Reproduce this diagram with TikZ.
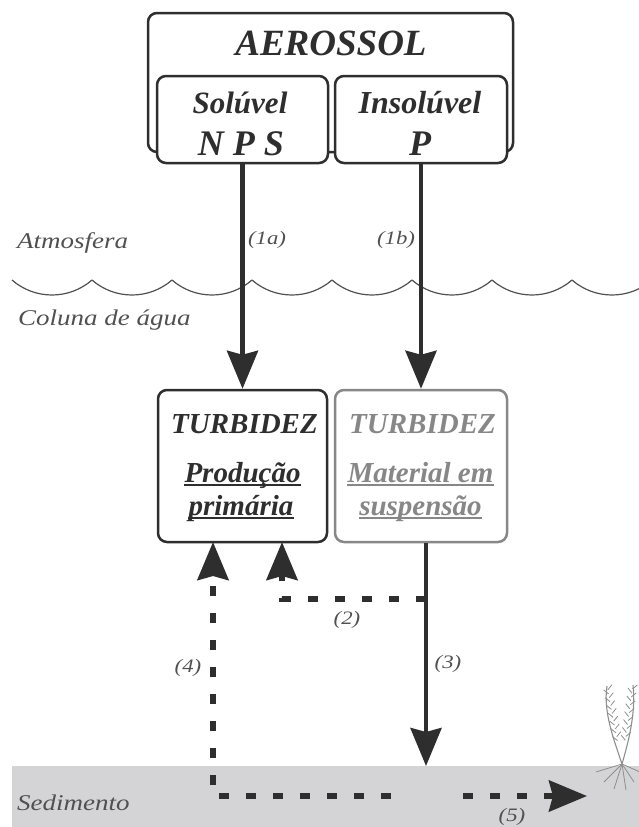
\documentclass[tikz,border=0pt]{standalone}
\usepackage{fontspec}
\setmainfont{Liberation Serif}
\newfontfamily\widefont[FakeStretch=1.2]{Liberation Serif}
\usetikzlibrary{arrows.meta,calc}

\definecolor{ink}{HTML}{2E2E2E}
\definecolor{greyink}{HTML}{878787}
\definecolor{labelgrey}{HTML}{505050}
\definecolor{sediment}{HTML}{D4D4D6}
\definecolor{plantgrey}{HTML}{8E8E8E}
\newcommand\fsz[1]{\fontsize{#1}{#1}\selectfont}

\begin{document}
\begin{tikzpicture}[x=1pt,y=-1pt,
  box/.style={draw=ink,line width=2.5pt,rounded corners=9pt,fill=white,inner sep=0pt},
  title/.style={font=\bfseries\itshape\fsz{#1},text=ink,inner sep=0pt,anchor=base},
  layer/.style={font=\widefont\itshape\fsz{22.5},text=labelgrey,inner sep=0pt,anchor=base west},
  num/.style={font=\widefont\itshape\fsz{19},text=labelgrey,inner sep=0pt},
  flow/.style={draw=ink,line width=4.5pt,-{Stealth[length=38pt,width=31pt,inset=4pt]}},
  dflow/.style={flow,line width=5.5pt,dash pattern=on 10pt off 17pt},
  uline/.style={line width=1.4pt},
  plant/.style={draw=plantgrey,line width=1.1pt},
]
\useasboundingbox (0,0) rectangle (639,827);

% sediment layer
\fill[sediment] (12,766) rectangle (639,827);
\node[layer] (sed) at (17,810) {Sedimento};

% air / water surface
\begin{scope}
  \clip (0,260) rectangle (639,310);
  \foreach \x in {12,92,...,572}{
    \draw[labelgrey,line width=1.2pt] (\x,280) .. controls (\x+22.9,300) and (\x+57.1,300) .. (\x+80,280);
  }
\end{scope}
\node[layer] (atm) at (17,248) {Atmosfera};
\node[layer] (agua) at (18,325) {Coluna de água};

% aerosol source
\node[box,minimum width=365pt,minimum height=139pt] (aero) at (330.5,82.5) {};
\node[box,minimum width=171pt,minimum height=87pt] (sol) at (242.5,119.5) {};
\node[box,minimum width=172pt,minimum height=87pt] (ins) at (421,119.5) {};
\node[title=37] (taero) at (331,55) {AEROSSOL};
\node[title=31] (tsol) at (240,113) {Solúvel};
\node[title=36] (tnps) at (241,155) {N P S};
\node[title=32] (tins) at (420,113) {Insolúvel};
\node[title=36] (tp) at (420,155) {P};

% turbidity boxes
\node[box,minimum width=169pt,minimum height=152pt] (turbA) at (242.5,466) {};
\node[box,draw=greyink,minimum width=172pt,minimum height=152pt] (turbB) at (421,466) {};
\node[title=29] (tturbA) at (244.5,433) {TURBIDEZ};
\node[title=29] (prod) at (242.5,482) {Produção};
\node[title=29] (prim) at (241,515) {primária};
\node[title=29,text=greyink] (tturbB) at (422.5,433) {TURBIDEZ};
\node[title=29,text=greyink] (mat) at (420.5,482) {Material em};
\node[title=29,text=greyink] (susp) at (420.5,515) {suspensão};
\draw[uline,ink] ([yshift=-3pt]prod.base west) -- ([yshift=-3pt]prod.base east);
\draw[uline,ink] ([yshift=-3pt]prim.base west) -- ([yshift=-3pt]prim.base east);
\draw[uline,greyink] ([yshift=-3pt]mat.base west) -- ([yshift=-3pt]mat.base east);
\draw[uline,greyink] ([yshift=-3pt]susp.base west) -- ([yshift=-3pt]susp.base east);

% deposition
\draw[flow] (sol) -- (turbA);
\draw[flow] (ins) -- (turbB);
\node[num] (n1a) at (267,240) {(1a)};
\node[num] (n1b) at (396,240) {(1b)};

% sinking, resuspension and burial
\coordinate (s3) at (426,766);
\coordinate (j2) at (426,599);
\coordinate (u2) at (282,542);
\coordinate (u4) at (213,542);
\coordinate (g4) at (391,796);
\coordinate (g5) at (463,796);
\coordinate (p5) at (587,796);
\draw[flow] (turbB.south -| s3) -- (s3);
\draw[dflow] (j2) -| (u2);
\draw[dflow] (g4) -| (u4);
\draw[dflow] (g5) -- (p5);
\node[num] (n2) at (347,620) {(2)};
\node[num] (n3) at (448,664) {(3)};
\node[num] (n4) at (188,668) {(4)};
\node[num] (n5) at (512,817) {(5)};

% seagrass
\coordinate (root) at (622,764);
\coordinate (ltop) at (607,686);
\coordinate (rtop) at (633,685);
\draw[plant] (root) .. controls (614,740) and (603,712) .. (ltop);
\draw[plant] (root) .. controls (629,740) and (636,712) .. (rtop);
\foreach \t [evaluate=\t as \u using \t+0.05] in {0.3,0.4,...,0.95}{
  \draw[plant,line width=0.8pt] ($(root)!\t!(ltop)$) -- ++(-5,-4) ($(root)!\u!(ltop)$) -- ++(4,-5);
  \draw[plant,line width=0.8pt] ($(root)!\t!(rtop)$) -- ++(-4,-5) ($(root)!\u!(rtop)$) -- ++(5,-4);
}
\foreach \dx/\dy in {-26/8,-18/18,-8/25,4/26,12/18,18/8}{
  \draw[plant,line width=0.8pt] (root) -- ++(\dx,\dy);
}
\end{tikzpicture}
\end{document}
